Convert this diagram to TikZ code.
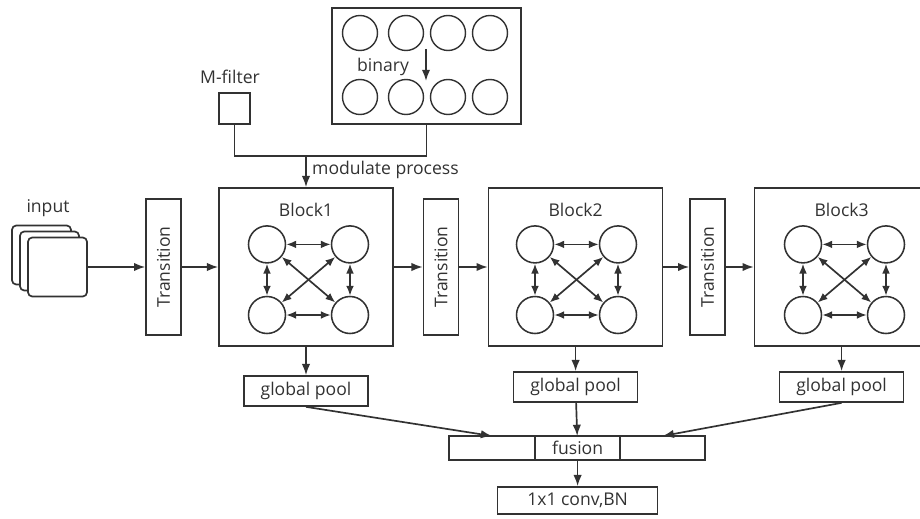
\documentclass[tikz,border=0pt]{standalone}
\usepackage{fontspec}
\setmainfont{Open Sans}
\usetikzlibrary{arrows.meta, positioning}
\definecolor{linegray}{RGB}{50,50,50}
\tikzstyle{box} = [rectangle, draw=linegray, line width=1.2pt, text=linegray,
	inner sep=0pt, font=\fontsize{12.5}{15}\selectfont]
\tikzstyle{block} = [box, minimum width=4.35cm, minimum height=3.95cm]
\tikzstyle{trans} = [box, rotate=90, minimum width=3.4cm, minimum height=0.875cm]
\tikzstyle{pool} = [box, minimum width=3.1cm, minimum height=0.75cm]
\tikzstyle{cell} = [box, outer sep=0pt, minimum height=0.6cm]
\tikzstyle{sheet} = [box, rounded corners=3pt, fill=white, minimum width=1.475cm, minimum height=1.475cm]
\tikzstyle{unit} = [circle, draw=linegray, line width=1.1pt, minimum size=0.925cm, inner sep=0pt]
\tikzstyle{bit} = [circle, draw=linegray, line width=1pt, minimum size=0.875cm, inner sep=0pt]
\tikzstyle{txt} = [text=linegray, font=\fontsize{12.5}{15}\selectfont]
\tikzstyle{line} = [draw=linegray, line width=1.2pt]
\tikzstyle{arrow} = [line, -{Latex[length=8pt, width=6pt]}]
\tikzstyle{dblarrow} = [line, {Latex[length=7pt, width=5.5pt]}-{Latex[length=7pt, width=5.5pt]}]

\begin{document}
\begin{tikzpicture}
	\useasboundingbox (0,0) rectangle (23,12.95);

	% binary filters
	\node (binary) [box, minimum width=4.725cm, minimum height=2.9cm] at (10.66,11.3) {};
	\node (bit1) [bit] at (9.0,12.125) {};
	\node (bit2) [bit] at (10.15,12.125) {};
	\node (bit3) [bit] at (11.2,12.125) {};
	\node (bit4) [bit] at (12.25,12.125) {};
	\node (bit5) [bit] at (9.0,10.525) {};
	\node (bit6) [bit] at (10.15,10.525) {};
	\node (bit7) [bit] at (11.2,10.525) {};
	\node (bit8) [bit] at (12.25,10.525) {};
	\node (binlabel) [txt] at (9.575,11.275) {binary};
	\coordinate (bintop) at (10.65,11.725);
	\coordinate (binbot) at (10.65,10.925);
	\draw [arrow] (bintop) -- (binbot);

	% M-filter
	\node (mfilter) [box, minimum size=0.775cm] at (5.86,10.24) {};
	\node (mlabel) [txt] at (5.75,11.025) {M-filter};
	\coordinate (join) at (7.65,9.05);
	\draw [line] (mfilter.south) |- (join);
	\draw [line] (binary.south) |- (join);
	\node (modlabel) [txt, anchor=west] at (7.68,8.7) {modulate process};

	% input
	\node (input3) [sheet] at (1.0375,6.575) {};
	\node (input2) [sheet] at (1.2375,6.425) {};
	\node (input) [sheet] at (1.4375,6.275) {};
	\node (inlabel) [txt] at (1.2,7.75) {input};

	% transitions and blocks
	\node (trans1) [trans] at (4.09,6.275) {Transition};
	\node (block1) [block] at (7.65,6.275) {};
	\node (trans2) [trans] at (11.025,6.275) {Transition};
	\node (block2) [block] at (14.39,6.275) {};
	\node (trans3) [trans] at (17.69,6.275) {Transition};
	\node (block3) [block] at (21.04,6.275) {};

	\node (title1) [txt] at (7.65,7.7) {Block1};
	\node (title2) [txt] at (14.39,7.7) {Block2};
	\node (title3) [txt] at (21.04,7.7) {Block3};

	\node (u1a) [unit] at (6.675,6.84) {};
	\node (u1b) [unit] at (8.75,6.84) {};
	\node (u1c) [unit] at (6.675,5.075) {};
	\node (u1d) [unit] at (8.75,5.075) {};
	\node (u2a) [unit] at (13.375,6.84) {};
	\node (u2b) [unit] at (15.45,6.84) {};
	\node (u2c) [unit] at (13.375,5.075) {};
	\node (u2d) [unit] at (15.45,5.075) {};
	\node (u3a) [unit] at (20.075,6.84) {};
	\node (u3b) [unit] at (22.15,6.84) {};
	\node (u3c) [unit] at (20.075,5.075) {};
	\node (u3d) [unit] at (22.15,5.075) {};

	\draw [dblarrow] (u1a) -- (u1b);
	\draw [dblarrow] (u1c) -- (u1d);
	\draw [dblarrow] (u1a) -- (u1c);
	\draw [dblarrow] (u1b) -- (u1d);
	\draw [dblarrow] (u1a) -- (u1d);
	\draw [dblarrow] (u1b) -- (u1c);
	\draw [dblarrow] (u2a) -- (u2b);
	\draw [dblarrow] (u2c) -- (u2d);
	\draw [dblarrow] (u2a) -- (u2c);
	\draw [dblarrow] (u2b) -- (u2d);
	\draw [dblarrow] (u2a) -- (u2d);
	\draw [dblarrow] (u2b) -- (u2c);
	\draw [dblarrow] (u3a) -- (u3b);
	\draw [dblarrow] (u3c) -- (u3d);
	\draw [dblarrow] (u3a) -- (u3c);
	\draw [dblarrow] (u3b) -- (u3d);
	\draw [dblarrow] (u3a) -- (u3d);
	\draw [dblarrow] (u3b) -- (u3c);

	\draw [arrow] (join) -- (block1.north);
	\draw [arrow] (input) -- (trans1);
	\draw [arrow] (trans1) -- (block1);
	\draw [arrow] (block1) -- (trans2);
	\draw [arrow] (trans2) -- (block2);
	\draw [arrow] (block2) -- (trans3);
	\draw [arrow] (trans3) -- (block3);

	% pooling and fusion
	\node (pool1) [pool] at (7.65,3.175) {global pool};
	\node (pool2) [pool] at (14.39,3.275) {global pool};
	\node (pool3) [pool] at (21.04,3.275) {global pool};

	\node (fusion) [cell, minimum width=2.125cm] at (14.44,1.75) {fusion};
	\node (fusl) [cell, minimum width=2.15cm, left=0pt of fusion] {};
	\node (fusr) [cell, minimum width=2.125cm, right=0pt of fusion] {};
	\node (conv) [box, minimum width=4cm, minimum height=0.675cm] at (14.44,0.4375) {1x1 conv,BN};

	\draw [arrow] (block1) -- (pool1);
	\draw [arrow] (block2) -- (pool2);
	\draw [arrow] (block3) -- (pool3);
	\draw [arrow] (pool1.south) -- (fusl.north);
	\draw [arrow] (pool2) -- (fusion);
	\draw [arrow] (pool3.south) -- (fusr.north);
	\draw [arrow] (fusion) -- (conv);

\end{tikzpicture}
\end{document}
